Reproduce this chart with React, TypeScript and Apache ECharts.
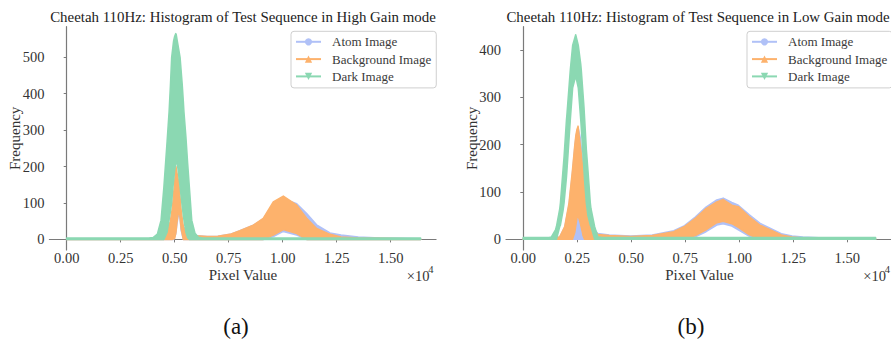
import React, { useEffect, useRef } from "react";
import * as echarts from "echarts";

// ---------- names & colours ----------
const seriesNames = ["Atom Image", "Background Image", "Dark Image"];
const seriesColors = ["#b0c1f7", "#fdb26c", "#8bd8b2"];
const titles = [
  "Cheetah 110Hz: Histogram of Test Sequence in High Gain mode",
  "Cheetah 110Hz: Histogram of Test Sequence in Low Gain mode",
];
const captions = ["(a)", "(b)"];

// ---------- tick labels ----------
const xTicks = [0, 0.25, 0.5, 0.75, 1.0, 1.25, 1.5]; // ×10^4
const yTicksHigh = [0, 100, 200, 300, 400, 500];
const yTicksLow = [0, 100, 200, 300, 400];

// ---------- (a) High Gain: envelopes (upper / lower) of noisy histograms ----------
const atomHighX = [0, 4000, 4400, 4600, 4800, 4950, 5050, 5100, 5150, 5200, 5250, 5300, 5400, 5600, 6000, 6500, 7000, 7560, 8020, 8640, 9100, 9565, 10030, 10650, 11110, 11570, 12190, 12700, 13500, 14500, 16383];
const atomHighUpper = [1, 1, 4, 12, 35, 60, 85, 92, 95, 90, 75, 55, 35, 15, 10, 8, 9, 14, 24, 39, 56, 97, 112, 98, 71, 40, 18, 12, 7, 4, 2];
const atomHighLower = [0, 0, 0, 0, 0, 0, 15, 40, 60, 80, 55, 25, 0, 0, 0, 0, 0, 0, 0, 0, 0, 8, 22, 12, 0, 0, 0, 0, 0, 0, 0];

const bgHighX = [0, 4000, 4400, 4600, 4800, 4900, 5000, 5060, 5100, 5150, 5200, 5250, 5300, 5400, 5600, 6000, 6500, 7000, 7560, 8020, 8640, 9100, 9565, 10030, 10650, 11110, 11570, 12190, 12700, 13500, 14500, 16383];
const bgHighUpper = [1, 1, 5, 15, 50, 90, 160, 200, 185, 170, 150, 115, 80, 35, 15, 10, 8, 9, 14, 24, 39, 58, 103, 119, 94, 58, 30, 14, 7, 4, 3, 1];
const bgHighLower = [0, 0, 0, 0, 0, 0, 3, 20, 45, 65, 85, 60, 30, 0, 0, 0, 0, 0, 0, 0, 0, 0, 12, 27, 16, 0, 0, 0, 0, 0, 0, 0];

const darkHighX = [0, 3800, 4000, 4200, 4370, 4500, 4650, 4740, 4800, 4860, 4920, 4950, 5000, 5050, 5070, 5120, 5150, 5250, 5350, 5400, 5430, 5520, 5600, 5680, 5790, 5940, 6100, 6300, 16383];
const darkHighUpper = [4, 4, 5, 15, 53, 144, 270, 350, 420, 500, 530, 545, 558, 565, 563, 545, 535, 500, 425, 380, 350, 282, 210, 144, 53, 17, 6, 4, 4];
const darkHighLower = [0, 0, 0, 0, 0, 0, 20, 53, 75, 100, 144, 160, 190, 210, 215, 205, 195, 144, 90, 65, 53, 20, 5, 0, 0, 0, 0, 0, 0];

// ---------- (b) Low Gain ----------
const atomLowX = [0, 1300, 1700, 1930, 2130, 2290, 2400, 2450, 2500, 2550, 2650, 2750, 2780, 2850, 2935, 3170, 3470, 4000, 5000, 6000, 7000, 7500, 8000, 8500, 9000, 9300, 9700, 10000, 10500, 11000, 11500, 12000, 12500, 13000, 14000, 15000, 16383];
const atomLowUpper = [1, 1, 5, 25, 72, 140, 195, 215, 228, 236, 215, 170, 152, 115, 80, 30, 12, 9, 7, 9, 18, 29, 47, 68, 83, 87, 78, 72, 52, 34, 23, 12, 7, 5, 3, 2, 1];
const atomLowLower = [0, 0, 0, 0, 0, 0, 0, 0, 0, 0, 0, 0, 0, 0, 0, 0, 0, 0, 0, 0, 0, 0, 5, 16, 30, 33, 28, 20, 7, 0, 0, 0, 0, 0, 0, 0, 0];

const bgLowX = [0, 1300, 1700, 1930, 2130, 2290, 2400, 2450, 2500, 2550, 2650, 2750, 2780, 2850, 2935, 3170, 3470, 4000, 5000, 6000, 7000, 7500, 8000, 8500, 9000, 9300, 9700, 10000, 10500, 11000, 11500, 12000, 12500, 13000, 14000, 15000, 16383];
const bgLowUpper = [1, 1, 5, 27, 77, 146, 200, 220, 232, 239, 200, 160, 146, 110, 77, 27, 10, 8, 6, 8, 16, 27, 44, 65, 79, 84, 72, 69, 48, 30, 20, 9, 5, 3, 2, 1, 1];
const bgLowLower = [0, 0, 0, 0, 0, 0, 15, 30, 45, 50, 35, 15, 8, 0, 0, 0, 0, 0, 0, 0, 0, 0, 8, 20, 35, 38, 33, 25, 10, 0, 0, 0, 0, 0, 0, 0, 0];

const darkLowX = [0, 1200, 1310, 1500, 1545, 1700, 1730, 1850, 1900, 2010, 2035, 2190, 2300, 2440, 2560, 2675, 2700, 2825, 2860, 2935, 3010, 3120, 3150, 3320, 3470, 3700, 16383];
const darkLowUpper = [4, 4, 5, 20, 27, 65, 77, 146, 175, 252, 265, 358, 410, 432, 410, 370, 358, 280, 252, 190, 146, 77, 65, 27, 5, 4, 4];
const darkLowLower = [0, 0, 0, 0, 0, 27, 30, 60, 77, 130, 146, 252, 320, 345, 320, 252, 235, 146, 120, 77, 50, 30, 27, 0, 0, 0, 0];

// ---------- layout ----------
const FAMILY = "'Liberation Serif', 'DejaVu Serif', serif";
const font = (size: number) => `${size}px ${FAMILY}`;
const TXT = "#333333";
const AXIS = "#7a7a7a";
const PX_PER_X = 0.0216; // px per pixel-value unit
const panels = [
  { left: 49.4, zeroX: 66.7, top: 26.7, height: 223.3, yMin: -29, yMax: 584, yTicks: yTicksHigh, centerX: 243, titleX: 243, legendLeft: 291, x10: 406.7, freqX: 14.5, capX: 236 },
  { left: 506, zeroX: 523.3, top: 26.7, height: 223.3, yMin: -22.6, yMax: 449, yTicks: yTicksLow, centerX: 699.5, titleX: 698, legendLeft: 747, x10: 863.3, freqX: 471.5, capX: 691 },
];
const X_MIN = -800;
const X_MAX = 17100;

function bandSeries(name: string, color: string, xs: number[], upper: number[], lower: number[], axisIndex: number) {
  return {
    type: "custom",
    name,
    coordinateSystem: "cartesian2d",
    xAxisIndex: axisIndex,
    yAxisIndex: axisIndex,
    silent: true,
    data: xs.map((x, i) => [x, upper[i], lower[i]]),
    encode: { x: 0, y: [1, 2] },
    renderItem: (params: any, api: any) => {
      if (params.dataIndex !== 0) return null;
      const pts: number[][] = [];
      for (let i = 0; i < xs.length; i++) pts.push(api.coord([xs[i], upper[i]]));
      for (let i = xs.length - 1; i >= 0; i--) pts.push(api.coord([xs[i], lower[i]]));
      return {
        type: "polygon",
        shape: { points: pts },
        style: { fill: color, stroke: color, lineWidth: 1.5, lineJoin: "round" },
      };
    },
  };
}

export default function App() {
  const ref = useRef<HTMLDivElement>(null);
  useEffect(() => {
    if (!ref.current) return;
    const chart = echarts.init(ref.current, undefined, { renderer: "svg" });

    const grids: any[] = [];
    const xAxes: any[] = [];
    const yAxes: any[] = [];
    const graphics: any[] = [];
    panels.forEach((p, k) => {
      const width = (X_MAX - X_MIN) * PX_PER_X;
      grids.push({ left: p.left, top: p.top, width, height: p.height });
      xAxes.push({
        type: "value", gridIndex: 2 * k, min: X_MIN, max: X_MAX,
        axisLine: { show: true, lineStyle: { color: AXIS, width: 1.2 } },
        axisTick: { show: false }, axisLabel: { show: false }, splitLine: { show: false },
      });
      yAxes.push({
        type: "value", gridIndex: 2 * k, min: p.yMin, max: p.yMax,
        axisLine: { show: true, lineStyle: { color: AXIS, width: 1.2 } },
        axisTick: { show: false }, axisLabel: { show: false }, splitLine: { show: false },
      });
      const zeroY = p.top + p.height - (0 - p.yMin) * (p.height / (p.yMax - p.yMin));
      const xLast = xTicks[xTicks.length - 1] * 1e4;
      const yLast = p.yTicks[p.yTicks.length - 1];
      const lh = yLast * (p.height / (p.yMax - p.yMin));
      grids.push({ left: p.zeroX, top: zeroY - lh, width: xLast * PX_PER_X, height: lh });
      xAxes.push({
        type: "value", gridIndex: 2 * k + 1, min: xTicks[0] * 1e4, max: xLast, interval: (xTicks[1] - xTicks[0]) * 1e4,
        offset: p.top + p.height - zeroY,
        axisLine: { show: false },
        axisTick: { show: true, length: 3, lineStyle: { color: AXIS, width: 1 } },
        axisLabel: { fontFamily: FAMILY, fontSize: 14.5, color: TXT, margin: 0, formatter: (v: number) => (v / 1e4).toFixed(2) },
        splitLine: { show: false },
      });
      yAxes.push({
        type: "value", gridIndex: 2 * k + 1, min: p.yTicks[0], max: yLast, interval: p.yTicks[1] - p.yTicks[0],
        offset: p.zeroX - p.left,
        axisLine: { show: false },
        axisTick: { show: true, length: 3, lineStyle: { color: AXIS, width: 1 } },
        axisLabel: { fontFamily: FAMILY, fontSize: 14.5, color: TXT, margin: 5 },
        splitLine: { show: false },
      });
      graphics.push(
        { type: "text", x: p.titleX, y: 17, style: { text: titles[k], font: font(14.9), fill: "#222", align: "center", verticalAlign: "middle" } },
        { type: "text", x: p.freqX, y: p.top + p.height / 2, rotation: Math.PI / 2, style: { text: "Frequency", font: font(15), fill: TXT, align: "center", verticalAlign: "middle" } },
        { type: "text", x: p.centerX, y: 275, style: { text: "Pixel Value", font: font(15), fill: TXT, align: "center", verticalAlign: "middle" } },
        { type: "text", x: p.x10, y: 275.5, style: { text: "×10", font: font(14.5), fill: TXT, align: "left", verticalAlign: "middle" } },
        { type: "text", x: p.x10 + 21.5, y: 269.5, style: { text: "4", font: font(10.5), fill: TXT, align: "left", verticalAlign: "middle" } },
        { type: "text", x: p.capX, y: 326, style: { text: captions[k], font: font(23), fill: "#111", align: "center", verticalAlign: "middle" } },
      );
    });

    const legendCommon = {
      orient: "vertical",
      data: seriesNames,
      itemWidth: 25,
      itemHeight: 9,
      itemGap: 3.3,
      padding: [3.5, 5, 4.5, 4],
      borderColor: "#cfcfcf",
      borderWidth: 1,
      borderRadius: 3,
      backgroundColor: "rgba(255,255,255,0.8)",
      selectedMode: false,
      textStyle: { fontFamily: FAMILY, fontSize: 13, color: "#3a3a3a", lineHeight: 14, padding: [0, 0, 0, 6] },
    };

    const legendDummies = seriesNames.map((n, i) => ({
      type: "line",
      name: n,
      xAxisIndex: 0,
      yAxisIndex: 0,
      data: [],
      symbol: i === 0 ? "circle" : "triangle",
      symbolRotate: i === 2 ? 180 : 0,
      itemStyle: { color: seriesColors[i] },
      lineStyle: { color: seriesColors[i], width: 2 },
    }));

    const option: any = {
      animation: false,
      backgroundColor: "#ffffff",
      grid: grids,
      xAxis: xAxes,
      yAxis: yAxes,
      legend: panels.map((p) => ({ ...legendCommon, left: p.legendLeft, top: 31.3 })),
      graphic: graphics,
      series: [
        ...legendDummies,
        bandSeries("atom-high", seriesColors[0], atomHighX, atomHighUpper, atomHighLower, 0),
        bandSeries("bg-high", seriesColors[1], bgHighX, bgHighUpper, bgHighLower, 0),
        bandSeries("dark-high", seriesColors[2], darkHighX, darkHighUpper, darkHighLower, 0),
        bandSeries("atom-low", seriesColors[0], atomLowX, atomLowUpper, atomLowLower, 2),
        bandSeries("bg-low", seriesColors[1], bgLowX, bgLowUpper, bgLowLower, 2),
        bandSeries("dark-low", seriesColors[2], darkLowX, darkLowUpper, darkLowLower, 2),
      ],
    };
    chart.setOption(option);
    return () => chart.dispose();
  }, []);
  return <div ref={ref} style={{ position: "fixed", left: 0, top: 0, width: 891, height: 343 }} />;
}
